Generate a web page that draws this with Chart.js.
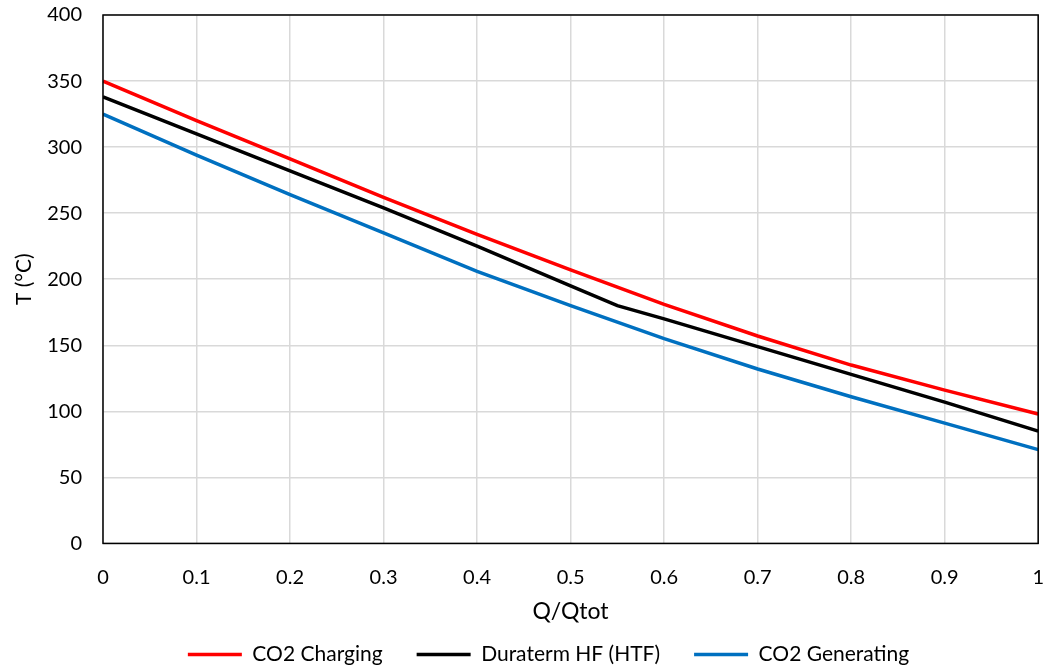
<!DOCTYPE html>
<html>
<head>
<meta charset="utf-8">
<script src="https://cdn.jsdelivr.net/npm/chart.js@4.4.1/dist/chart.umd.min.js"></script>
<style>
  html, body { margin: 0; padding: 0; background: #fff; }
  #wrap { width: 1044px; height: 670px; }
</style>
</head>
<body>
<div id="wrap"><canvas id="c" width="1044" height="670"></canvas></div>
<script>
const qCharging = [0, 0.1, 0.2, 0.3, 0.4, 0.5, 0.6, 0.7, 0.8, 0.9, 1.0];
const tCharging = [350, 320, 291, 262, 234, 207, 181, 157, 135, 116, 98];

const qHTF = [0, 0.1, 0.2, 0.3, 0.4, 0.5, 0.55, 0.6, 0.7, 0.8, 0.9, 1.0];
const tHTF = [338, 310, 282, 254, 225, 195, 180, 170, 149, 128, 107, 85];

const qGenerating = [0, 0.1, 0.2, 0.3, 0.4, 0.5, 0.6, 0.7, 0.8, 0.9, 1.0];
const tGenerating = [325, 294, 264, 235, 206, 180, 155, 132, 111, 91, 71];

const seriesNames = ["CO2 Charging", "Duraterm HF (HTF)", "CO2 Generating"];
const seriesColors = ["#ff0000", "#000000", "#0070c0"];

function pts(xs, ys) { return xs.map((x, i) => ({ x: x, y: ys[i] })); }

const frame = {
  id: 'frame',
  afterLayout(chart) {
    if (chart.legend) { chart.legend.left += 22; chart.legend.right += 22; }
  },
  afterDraw(chart) {
    const a = chart.chartArea, ctx = chart.ctx;
    ctx.save();
    ctx.strokeStyle = '#000';
    ctx.lineWidth = 1.5;
    ctx.strokeRect(a.left, a.top, a.right - a.left, a.bottom - a.top);
    ctx.restore();
  }
};

const FONT = "Lato, 'Open Sans', sans-serif";
const HIDDEN = 'rgba(0,0,0,0)';

new Chart(document.getElementById('c'), {
  type: 'line',
  data: {
    datasets: [
      { label: seriesNames[0], data: pts(qCharging, tCharging) },
      { label: seriesNames[1], data: pts(qHTF, tHTF) },
      { label: seriesNames[2], data: pts(qGenerating, tGenerating) }
    ].map((d, i) => Object.assign(d, {
      borderColor: seriesColors[i],
      backgroundColor: seriesColors[i],
      borderWidth: 3.5,
      pointRadius: 0,
      tension: 0,
      fill: false
    }))
  },
  options: {
    responsive: false,
    animation: false,
    layout: { padding: { left: 12, right: 3, top: 15, bottom: -5 } },
    plugins: {
      legend: {
        position: 'bottom',
        labels: {
          usePointStyle: true,
          pointStyle: 'line',
          pointStyleWidth: 54,
          boxHeight: 3,
          color: '#000',
          padding: 34,
          font: { family: FONT, size: 21 }
        }
      },
      tooltip: { enabled: false }
    },
    scales: {
      x: {
        type: 'linear',
        min: 0, max: 1,
        ticks: {
          stepSize: 0.1, color: '#000', font: { family: FONT, size: 20 }, padding: 0,
          callback: v => String(+v.toFixed(1))
        },
        grid: { color: '#d9d9d9', lineWidth: 1.5, drawTicks: true, tickLength: 22, tickColor: HIDDEN },
        border: { display: false },
        title: { display: true, text: 'Q/Qtot', color: '#000', font: { family: FONT, size: 23 }, padding: { top: 8, bottom: -15 } }
      },
      y: {
        min: 0, max: 400,
        ticks: { stepSize: 50, color: '#000', font: { family: FONT, size: 20 }, padding: 0 },
        grid: { color: '#d9d9d9', lineWidth: 1.5, drawTicks: true, tickLength: 21, tickColor: HIDDEN },
        border: { display: false },
        title: { display: true, text: 'T (°C)', color: '#000', font: { family: FONT, size: 21 }, padding: { top: 0, bottom: 10 } }
      }
    }
  },
  plugins: [frame]
});
</script>
</body>
</html>
